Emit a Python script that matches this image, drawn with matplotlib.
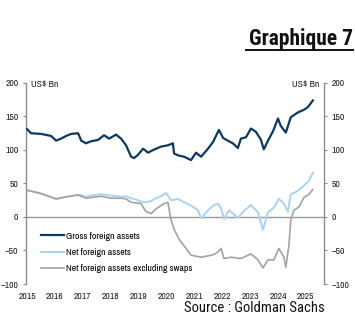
import matplotlib
matplotlib.use("Agg")
import matplotlib.pyplot as plt
from matplotlib.lines import Line2D

NARROW = ['Arial Narrow', 'Liberation Sans Narrow', 'Archivo Narrow', 'PT Sans Narrow',
          'Roboto Condensed', 'Liberation Sans', 'DejaVu Sans']
TITLE_FONT = ['Roboto Condensed', 'Archivo Narrow', 'Liberation Sans', 'DejaVu Sans']
plt.rcParams['font.family'] = NARROW

# Gross foreign assets (US$ Bn)
gross_x = [2015.00, 2015.14, 2015.50, 2015.86, 2016.04, 2016.22, 2016.40, 2016.58,
           2016.83, 2016.94, 2017.11, 2017.29, 2017.54, 2017.76, 2017.94, 2018.19,
           2018.37, 2018.55, 2018.73, 2018.84, 2018.98, 2019.16, 2019.34, 2019.52,
           2019.80, 2020.05, 2020.23, 2020.27, 2020.41, 2020.63, 2020.88, 2021.06,
           2021.24, 2021.49, 2021.67, 2021.88, 2022.03, 2022.20, 2022.38, 2022.56,
           2022.67, 2022.85, 2023.03, 2023.21, 2023.39, 2023.49, 2023.64, 2023.82,
           2024.00, 2024.10, 2024.28, 2024.46, 2024.71, 2024.93, 2025.07, 2025.18,
           2025.25]
gross_y = [131, 125, 124, 121, 114, 117, 121, 124,
           125, 114, 110, 113, 115, 122, 117, 123,
           117, 107, 90, 88, 93, 102, 96, 100,
           105, 107, 110, 95, 92, 90, 85, 96,
           90, 102, 112, 130, 118, 114, 110, 103,
           117, 119, 132, 127, 115, 101, 114, 128,
           147, 136, 126, 149, 156, 160, 164, 170,
           174]

# Net foreign assets (US$ Bn)
net_x = [2015.00, 2015.50, 2016.04, 2016.40, 2016.83, 2017.01, 2017.11, 2017.29,
         2017.65, 2018.01, 2018.37, 2018.55, 2018.73, 2018.91, 2019.09, 2019.27,
         2019.45, 2019.62, 2019.80, 2019.98, 2020.16, 2020.41, 2020.63, 2020.88,
         2021.13, 2021.24, 2021.49, 2021.67, 2021.85, 2021.96, 2022.06, 2022.24,
         2022.56, 2022.78, 2023.03, 2023.28, 2023.46, 2023.64, 2023.85, 2024.03,
         2024.21, 2024.35, 2024.46, 2024.71, 2024.93, 2025.11, 2025.25]
net_y = [40, 35, 27, 30, 33, 32, 30, 32,
         34, 32, 30, 31, 28, 26, 23, 22,
         24, 28, 31, 36, 25, 27, 22, 17,
         10, -2, 10, 17, 20, 13, -3, 10,
         -1, 9, 18, 7, -19, 7, 14, 27,
         20, 8, 34, 39, 47, 54, 66]

# Net foreign assets excluding swaps (US$ Bn)
excl_x = [2015.00, 2015.50, 2016.04, 2016.40, 2016.83, 2017.11, 2017.65, 2018.01,
          2018.37, 2018.55, 2018.73, 2018.91, 2019.09, 2019.20, 2019.27, 2019.45,
          2019.62, 2019.91, 2020.05, 2020.16, 2020.27, 2020.45, 2020.63, 2020.88,
          2021.24, 2021.49, 2021.70, 2021.85, 2021.96, 2022.06, 2022.31, 2022.67,
          2023.03, 2023.28, 2023.46, 2023.64, 2023.85, 2024.03, 2024.21, 2024.28,
          2024.39, 2024.46, 2024.57, 2024.75, 2024.93, 2025.11, 2025.25]
excl_y = [40, 35, 27, 30, 33, 28, 31, 28,
          28, 27, 22, 21, 20, 12, 8, 5,
          12, 20, 22, -4, -18, -33, -43, -57,
          -60, -58, -56, -52, -47, -62, -60, -62,
          -55, -64, -76, -64, -64, -47, -60, -75,
          -43, -4, 10, 15, 29, 34, 41]

year_ticks = list(range(2015, 2026))
y_ticks = [-100, -50, 0, 50, 100, 150, 200]

W, H = 355, 321
fig = plt.figure(figsize=(W / 100, H / 100), dpi=100)
ax = fig.add_axes([26 / W, 1 - 284 / H, (324 - 26) / W, (284 - 83) / H])

spine_col = '#8c8c8c'
ax.axhline(0, color='#999999', lw=1.0, zorder=1)
ax.plot(excl_x, excl_y, color='#a3a3a3', lw=1.2, zorder=3,
        label='Net foreign assets excluding swaps')
ax.plot(net_x, net_y, color='#a9d3f2', lw=1.4, zorder=2, label='Net foreign assets')
ax.plot(gross_x, gross_y, color='#0c3861', lw=1.6, zorder=4, label='Gross foreign assets')

ax.set_xlim(2014.96, 2025.65)
ax.set_ylim(-100, 200)
ax.set_xticks(year_ticks)
ax.set_xticklabels([str(y) for y in year_ticks])
ax.set_yticks(y_ticks)

for s in ['top', 'bottom']:
    ax.spines[s].set_visible(False)
for s in ['left', 'right']:
    ax.spines[s].set_color(spine_col)
    ax.spines[s].set_linewidth(1.0)

ax.tick_params(axis='x', length=0, pad=6, labelsize=7, colors='#222222')
ax.tick_params(axis='y', length=2.5, width=0.8, color=spine_col, pad=3,
               labelsize=7, labelcolor='#222222', right=True, labelright=True)

ax.text(0.017, 0.995, 'US$ Bn', transform=ax.transAxes, fontsize=7,
        ha='left', va='center', color='#222222')
ax.text(0.985, 0.995, 'US$ Bn', transform=ax.transAxes, fontsize=7,
        ha='right', va='center', color='#222222')

handles, labels = ax.get_legend_handles_labels()
order = [2, 1, 0]
ax.legend([handles[i] for i in order], [labels[i] for i in order],
          loc='lower left', bbox_to_anchor=(0.02, 0.01), frameon=False,
          fontsize=7, handlelength=2.4, handletextpad=0.15, labelspacing=0.75)

fig.text(353 / W, 1 - 39 / H, 'Graphique 7', fontsize=15.5, fontweight='bold',
         ha='right', va='center', color='#111111', family=TITLE_FONT)
fig.add_artist(Line2D([246 / W, 353 / W], [1 - 49.5 / H, 1 - 49.5 / H],
                      color='#111111', lw=1.4, transform=fig.transFigure))
fig.text(325 / W, 1 - 308 / H, 'Source : Goldman Sachs', fontsize=10.5,
         ha='right', va='center', color='#111111', family=TITLE_FONT)

fig.savefig('out.png', dpi=100)
